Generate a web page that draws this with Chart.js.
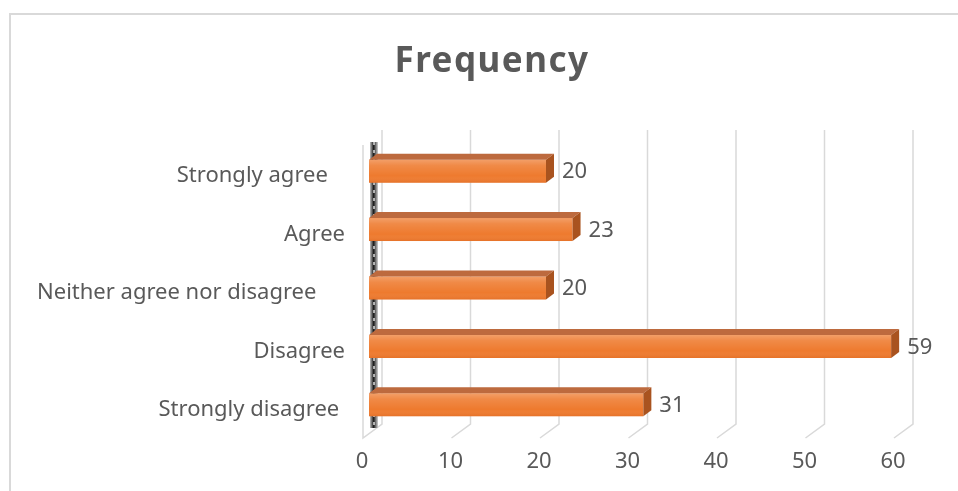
<!DOCTYPE html>
<html>
<head>
<meta charset="utf-8">
<script src="https://cdn.jsdelivr.net/npm/chart.js@4/dist/chart.umd.min.js"></script>
<style>
  html, body { margin: 0; padding: 0; background: #fff; }
  #wrap { width: 958px; height: 491px; position: relative; }
</style>
</head>
<body>
<div id="wrap"><canvas id="freq-chart" width="958" height="491"></canvas></div>
<script>
// survey answers (labels keep their trailing spaces)
const categories = ['Strongly agree   ', 'Agree', 'Neither agree nor disagree     ', 'Disagree', 'Strongly disagree '];
const frequency = [20, 23, 20, 59, 31];
const xMin = 0;
const xMax = 60;
const xStep = 10;
const chartTitle = 'Frequency';

const textColor = '#595959';
const gridColor = '#d9d9d9';
const fontFamily = '"Noto Sans", "Open Sans", sans-serif';

// depth of the back wall and of each bar
const wallDx = 19, wallDy = -14, wallFront = -6;
const barDx = 8, barDy = -6;

// frame, title, back wall grid and the thin left wall
const wallPlugin = {
    id: 'wall',
    beforeDraw(chart) {
        const c = chart.ctx;
        c.save();
        c.strokeStyle = gridColor;
        c.lineWidth = 2;
        c.beginPath();
        c.moveTo(10, 491);
        c.lineTo(10, 14);
        c.lineTo(958, 14);
        c.stroke();

        // title sits over the middle of the whole frame
        c.fillStyle = textColor;
        c.font = 'bold 35px ' + fontFamily;
        c.letterSpacing = '1.5px';
        c.textAlign = 'center';
        c.textBaseline = 'middle';
        c.fillText(chartTitle, 492, 62);
        c.restore();
    },
    beforeDatasetsDraw(chart) {
        const c = chart.ctx;
        const area = chart.chartArea;
        const xs = chart.scales.x;
        c.save();
        c.strokeStyle = gridColor;
        c.lineWidth = 1.5;
        xs.ticks.forEach(t => {
            const px = xs.getPixelForValue(t.value);
            const fx = px + wallFront;
            const bx = fx + wallDx;
            c.beginPath();
            c.moveTo(bx, area.top - 12);
            c.lineTo(bx, area.bottom + 4 + wallDy);
            c.lineTo(fx, area.bottom + 4);
            if (t.value === xMin) {
                c.lineTo(fx, area.top + 3);
            }
            c.stroke();
        });
        // shaded edge of the left wall
        const x0 = xs.getPixelForValue(xMin) + 1;
        const g = c.createLinearGradient(x0, 0, x0 + 8, 0);
        g.addColorStop(0, '#bfbfbf');
        g.addColorStop(0.45, '#1a1a1a');
        g.addColorStop(1, '#d0d0d0');
        c.fillStyle = g;
        c.fillRect(x0, area.top, 8, area.bottom - area.top - 6);
        c.strokeStyle = 'rgba(255,255,255,0.85)';
        c.lineWidth = 1.5;
        c.setLineDash([3, 5]);
        c.beginPath();
        c.moveTo(x0 + 4, area.top);
        c.lineTo(x0 + 4, area.bottom - 6);
        c.stroke();
        c.restore();
    }
};

// top and side faces of the bars, front shading and value labels
const barFaces = {
    id: 'barFaces',
    afterDatasetsDraw(chart) {
        const c = chart.ctx;
        const meta = chart.getDatasetMeta(0);
        c.save();
        meta.data.forEach((bar, i) => {
            const top = bar.y - bar.height / 2;
            const bottom = bar.y + bar.height / 2;
            const x = bar.x, base = bar.base;

            const shade = c.createLinearGradient(0, top, 0, bottom);
            shade.addColorStop(0, 'rgba(255,255,255,0.28)');
            shade.addColorStop(0.25, 'rgba(255,255,255,0.12)');
            shade.addColorStop(0.7, 'rgba(255,255,255,0)');
            shade.addColorStop(1, 'rgba(180,60,0,0.15)');
            c.fillStyle = shade;
            c.fillRect(base, top, x - base, bottom - top);

            c.fillStyle = '#bd6a3e';
            c.beginPath();
            c.moveTo(base, top);
            c.lineTo(base + barDx, top + barDy);
            c.lineTo(x + barDx, top + barDy);
            c.lineTo(x, top);
            c.closePath();
            c.fill();

            c.fillStyle = '#a9531f';
            c.beginPath();
            c.moveTo(x, top);
            c.lineTo(x + barDx, top + barDy);
            c.lineTo(x + barDx, bottom + barDy);
            c.lineTo(x, bottom);
            c.closePath();
            c.fill();

            c.fillStyle = textColor;
            c.font = '22px ' + fontFamily;
            c.textAlign = 'left';
            c.textBaseline = 'middle';
            c.fillText(String(frequency[i]), x + barDx + 8, bar.y + 1);
        });
        c.restore();
    }
};

const ctx = document.getElementById('freq-chart').getContext('2d');
const freqChart = new Chart(ctx, {
    type: 'bar',
    data: {
        labels: categories,
        datasets: [{
            label: 'Frequency',
            data: frequency,
            backgroundColor: '#ee7a2e',
            borderWidth: 0,
            categoryPercentage: 1,
            barPercentage: 0.394
        }]
    },
    options: {
        indexAxis: 'y',
        responsive: false,
        animation: false,
        layout: { padding: { top: 142, right: 58, bottom: 0, left: 0 } },
        plugins: {
            legend: { display: false },
            tooltip: { enabled: false },
            title: { display: false }
        },
        scales: {
            x: {
                min: xMin,
                max: xMax,
                grid: { display: false, drawTicks: false },
                border: { display: false },
                ticks: {
                    stepSize: xStep,
                    color: textColor,
                    font: { family: fontFamily, size: 22 },
                    labelOffset: -7,
                    padding: 15
                },
                afterFit(scale) { scale.height = 57; }
            },
            y: {
                grid: { display: false, drawTicks: false },
                border: { display: false },
                ticks: {
                    color: textColor,
                    font: { family: fontFamily, size: 22 },
                    labelOffset: 5,
                    padding: 24
                },
                afterFit(scale) { scale.width = 369; }
            }
        }
    },
    plugins: [wallPlugin, barFaces]
});
</script>
</body>
</html>
